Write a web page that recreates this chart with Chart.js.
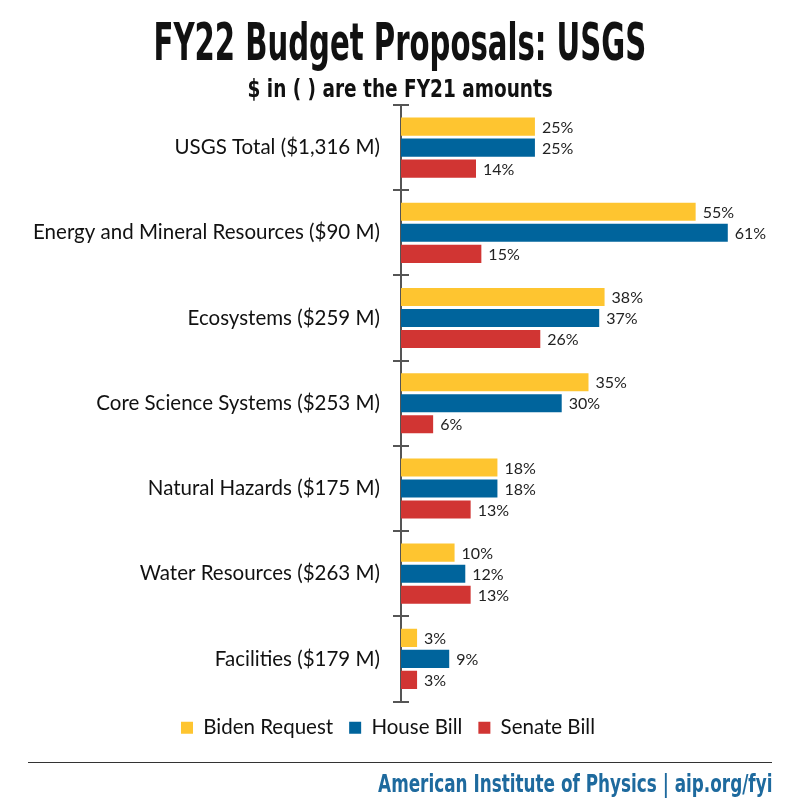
<!DOCTYPE html>
<html>
<head>
<meta charset="utf-8">
<script src="https://cdn.jsdelivr.net/npm/chart.js@4.4.0/dist/chart.umd.min.js"></script>
<style>
    body { margin: 0; background: #fff; }
    #page { position: relative; width: 800px; height: 810px; overflow: hidden; }
    .narrow { font-family: "DejaVu Sans Condensed", "Liberation Sans", sans-serif; position: absolute; white-space: nowrap; color: #111; }
    #title { top: 13px; left: 400px; font-size: 51px; font-weight: bold; transform-origin: left top; }
    #subtitle { top: 74px; left: 400px; font-size: 25px; font-weight: bold; transform-origin: left top; }
    #rule { position: absolute; left: 28px; width: 744px; top: 762px; border-top: 1.5px solid #333; }
    #footer { top: 770px; right: 28px; font-weight: bold; font-size: 24px; color: #1e6a9e; transform-origin: right top; }
    #chartBox { position: absolute; left: 0; top: 0; width: 800px; height: 810px; }
</style>
</head>
<body>
<div id="page">
    <div id="chartBox"><canvas id="barChart"></canvas></div>
    <div id="title" class="narrow">FY22 Budget Proposals: USGS</div>
    <div id="subtitle" class="narrow">$ in ( ) are the FY21 amounts</div>
    <div id="rule"></div>
    <div id="footer" class="narrow">American Institute of Physics | aip.org/fyi</div>
</div>
<script>
// Data
const categories = [
    'USGS Total ($1,316 M)',
    'Energy and Mineral Resources ($90 M)',
    'Ecosystems ($259 M)',
    'Core Science Systems ($253 M)',
    'Natural Hazards ($175 M)',
    'Water Resources ($263 M)',
    'Facilities ($179 M)'
];
const bidenRequest = [25, 55, 38, 35, 18, 10, 3];
const houseBill = [25, 61, 37, 30, 18, 12, 9];
const senateBill = [14, 15, 26, 6, 13, 13, 3];

const labelFont = '"Lato", "Open Sans", sans-serif';

// Squeeze the heading texts into a condensed look
function squeeze(id, targetWidth, centered) {
    const el = document.getElementById(id);
    const k = targetWidth / el.offsetWidth;
    el.style.transform = centered
        ? `translateX(${-targetWidth / 2}px) scaleX(${k})`
        : `scaleX(${k})`;
}
squeeze('title', 493, true);
squeeze('subtitle', 305, true);
squeeze('footer', 394, false);

// Tick marks across the y axis at category boundaries
const axisTicks = {
    id: 'axisTicks',
    afterDraw(chart) {
        const y = chart.scales.y;
        const ctx = chart.ctx;
        const step = (y.bottom - y.top) / categories.length;
        ctx.save();
        ctx.strokeStyle = '#555';
        ctx.lineWidth = 2;
        for (let i = 0; i <= categories.length; i++) {
            const py = Math.round(y.top + i * step);
            ctx.beginPath();
            ctx.moveTo(y.right - 8, py);
            ctx.lineTo(y.right + 8, py);
            ctx.stroke();
        }
        ctx.restore();
    }
};

// Percent labels at the end of each bar
const valueLabels = {
    id: 'valueLabels',
    afterDatasetsDraw(chart) {
        const ctx = chart.ctx;
        ctx.save();
        ctx.font = '16px ' + labelFont;
        ctx.fillStyle = '#222';
        ctx.textBaseline = 'middle';
        chart.data.datasets.forEach((ds, di) => {
            chart.getDatasetMeta(di).data.forEach((bar, i) => {
                ctx.fillText(ds.data[i] + '%', bar.x + 7, bar.y + 1);
            });
        });
        ctx.restore();
    }
};

new Chart(document.getElementById('barChart').getContext('2d'), {
    type: 'bar',
    data: {
        labels: categories,
        datasets: [
            { label: 'Biden Request', data: bidenRequest, backgroundColor: '#fec530' },
            { label: 'House Bill', data: houseBill, backgroundColor: '#00649c' },
            { label: 'Senate Bill', data: senateBill, backgroundColor: '#d13533' }
        ]
    },
    options: {
        indexAxis: 'y',
        responsive: true,
        maintainAspectRatio: false,
        animation: false,
        categoryPercentage: 0.74,
        barPercentage: 0.86,
        layout: { padding: { top: 105, right: 24, bottom: 62, left: 0 } },
        plugins: {
            legend: {
                position: 'bottom',
                labels: {
                    boxWidth: 12, boxHeight: 12, padding: 16,
                    color: '#111',
                    font: { family: labelFont, size: 20.5 }
                }
            },
            tooltip: { enabled: false }
        },
        scales: {
            x: { display: false, min: 0, max: 70 },
            y: {
                grid: { display: false },
                border: { display: true, color: '#555', width: 2 },
                ticks: { color: '#111', padding: 13, font: { family: labelFont, size: 20.5 } },
                afterFit: s => { s.width = 401; }
            }
        }
    },
    plugins: [axisTicks, valueLabels]
});
</script>
</body>
</html>
